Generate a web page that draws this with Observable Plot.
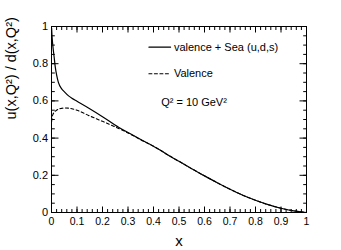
<!DOCTYPE html>
<html><head><meta charset="utf-8">
<script src="https://cdn.jsdelivr.net/npm/d3@7"></script>
<script src="https://cdn.jsdelivr.net/npm/@observablehq/plot@0.6"></script>
<style>
body{margin:0;background:#fff;}
#chart svg{font-family:"Liberation Sans",Arial,sans-serif;}
</style>
</head><body><div id="chart"></div>
<script>
// data
const xs =       [0.0005,0.002,0.005,0.01,0.015,0.02,0.027,0.04,0.05,0.067,0.08,0.1,0.145,0.2,0.263,0.3,0.35,0.4,0.427,0.45,0.5,0.55,0.6,0.65,0.7,0.75,0.8,0.85,0.9,0.95,1.0];
const total =    [0.99,0.95,0.90,0.84,0.78,0.74,0.70,0.665,0.65,0.627,0.614,0.598,0.562,0.515,0.458,0.43,0.392,0.356,0.335,0.315,0.275,0.235,0.197,0.16,0.125,0.093,0.066,0.042,0.023,0.009,0.0];
const valence =  [0.49,0.51,0.525,0.537,0.545,0.55,0.556,0.56,0.562,0.561,0.558,0.55,0.522,0.49,0.452,0.428,0.391,0.356,0.335,0.315,0.275,0.235,0.197,0.16,0.125,0.093,0.066,0.042,0.023,0.009,0.0];
const xTicks = [0,0.1,0.2,0.3,0.4,0.5,0.6,0.7,0.8,0.9,1];
const yTicks = [0,0.2,0.4,0.6,0.8,1];
const xMinor = d3.range(0,51).map(i=>i/50);
const yMinor = d3.range(0,21).map(i=>i/20);
const legendLabels = ["valence + Sea (u,d,s)","Valence"];
const annotation = "Q² = 10 GeV²";

const curves = [
  ...xs.map((x,i)=>({x, y: total[i], s: legendLabels[0]})),
  ...xs.map((x,i)=>({x, y: valence[i], s: legendLabels[1]}))
];
const fmt = d => String(+d.toFixed(1));
const none = () => "";
const legendY = [0.889, 0.746];
const legendLines = legendLabels.flatMap((s,i)=>[{x:0.382,y:legendY[i],s},{x:0.467,y:legendY[i],s}]);
const legendText = legendLabels.map((s,i)=>({x:0.48,y:legendY[i],s}));

const chart = Plot.plot({
  width: 341, height: 250,
  marginLeft: 51, marginRight: 35, marginTop: 26, marginBottom: 38,
  x: {domain:[0,1]},
  y: {domain:[0,1]},
  style: {fontFamily:'"Liberation Sans",Arial,sans-serif', color:"#000", background:"#fff"},
  marks: [
    Plot.frame({stroke:"#000", strokeWidth:1}),
    Plot.axisX(xTicks,{anchor:"bottom", tickSize:-5.5, tickFormat:fmt, fontSize:10.5, tickPadding:11, label:null}),
    Plot.axisX(xMinor,{anchor:"bottom", tickSize:-3, tickFormat:none, label:null}),
    Plot.axisX(xTicks,{anchor:"top", tickSize:-5.5, tickFormat:none, label:null}),
    Plot.axisX(xMinor,{anchor:"top", tickSize:-3, tickFormat:none, label:null}),
    Plot.axisY(yTicks,{anchor:"left", tickSize:-7.5, tickFormat:fmt, fontSize:11, tickPadding:11, label:null}),
    Plot.axisY(yMinor,{anchor:"left", tickSize:-3.8, tickFormat:none, label:null}),
    Plot.axisY(yTicks,{anchor:"right", tickSize:-7.5, tickFormat:none, label:null}),
    Plot.axisY(yMinor,{anchor:"right", tickSize:-3.8, tickFormat:none, label:null}),
    Plot.line(curves.filter(d=>d.s===legendLabels[1]),{x:"x",y:"y",stroke:"#000",strokeWidth:1.1,strokeDasharray:"3,2.5",curve:"monotone-x"}),
    Plot.line(curves.filter(d=>d.s===legendLabels[0]),{x:"x",y:"y",stroke:"#000",strokeWidth:1.2,curve:"monotone-x"}),
    Plot.line(legendLines.filter(d=>d.s===legendLabels[0]),{x:"x",y:"y",stroke:"#000",strokeWidth:1.1}),
    Plot.line(legendLines.filter(d=>d.s===legendLabels[1]),{x:"x",y:"y",stroke:"#000",strokeWidth:1.1,strokeDasharray:"3,2.5"}),
    Plot.text(legendText,{x:"x",y:"y",text:"s",textAnchor:"start",fontSize:11,fill:"#000"}),
    Plot.text([annotation],{x:0.43,y:0.594,text:d=>d,textAnchor:"start",fontSize:11,fill:"#000"}),
    Plot.text(["x"],{frameAnchor:"bottom",dy:33,text:d=>d,fontSize:15,fill:"#000"}),
    Plot.text(["u(x,Q²) / d(x,Q²)"],{frameAnchor:"left",dx:-40,rotate:-90,text:d=>d,fontSize:14.5,fill:"#000"})
  ]
});
document.getElementById("chart").appendChild(chart);
</script>
</body></html>
